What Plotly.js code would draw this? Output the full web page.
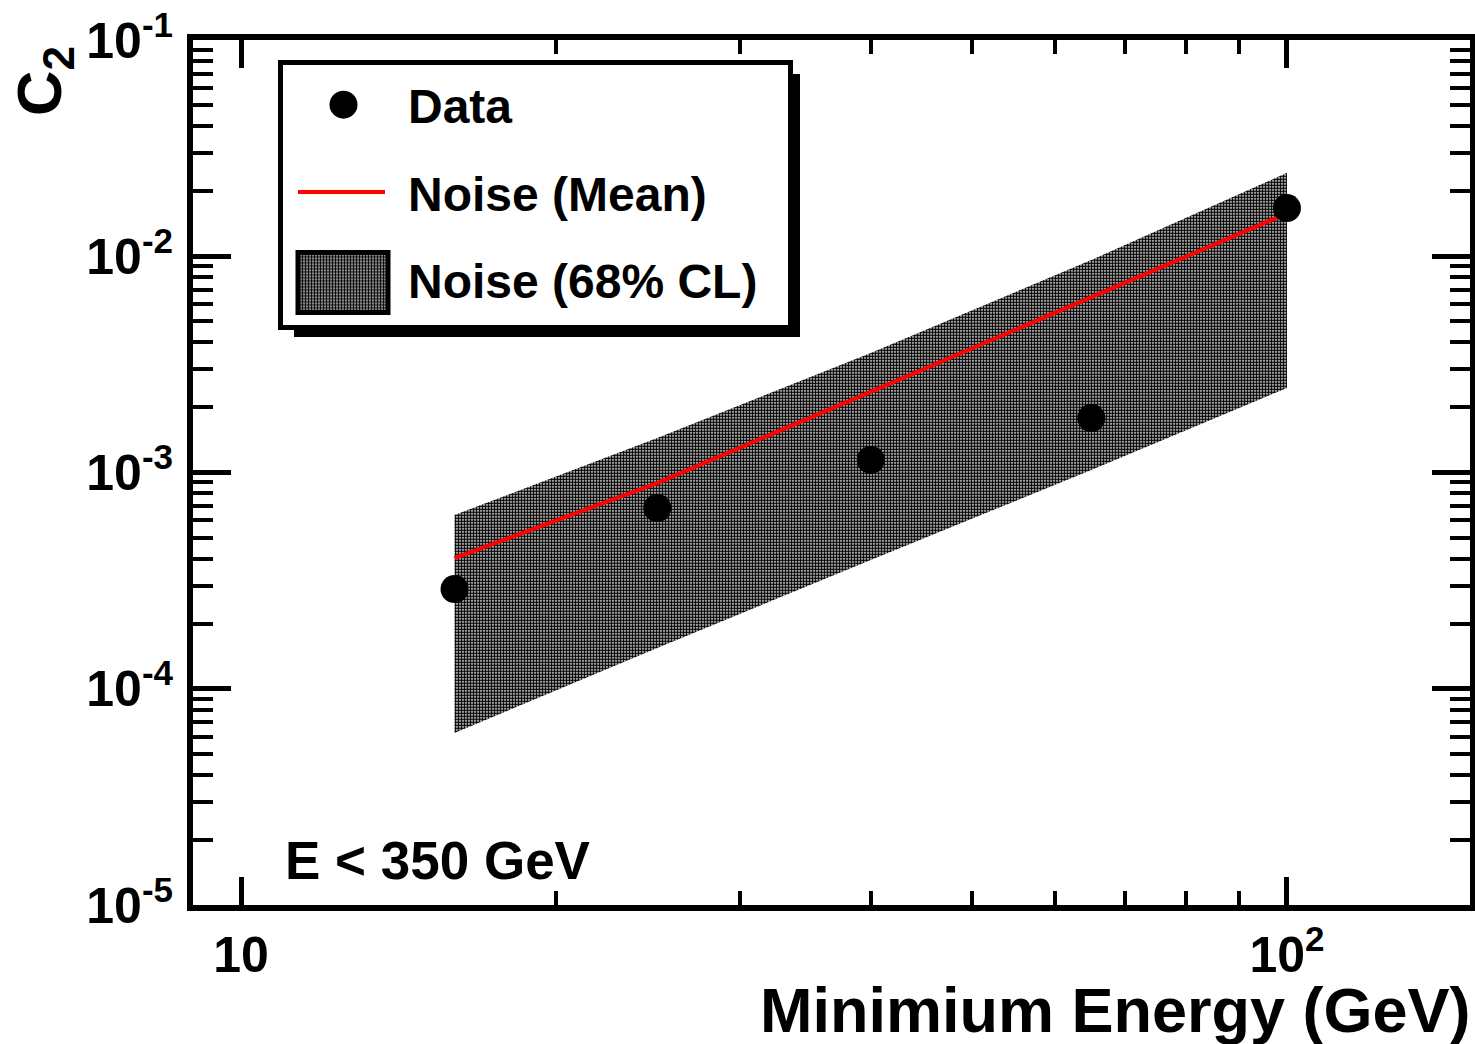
<!DOCTYPE html>
<html>
<head>
<meta charset="utf-8">
<script src="https://cdn.plot.ly/plotly-3.0.1.min.js"></script>
<style>
  html, body { margin: 0; padding: 0; background: #ffffff; }
  #chart { width: 1475px; height: 1044px; }
</style>
</head>
<body>
<div id="chart"></div>
<script>
// ---- data ----
var energyMin   = [16, 25, 40, 65, 100];                       // Minimum energy (GeV)
var dataC2      = [2.89e-4, 6.85e-4, 1.143e-3, 1.786e-3, 1.67e-2];
var noiseMean   = [4.02e-4, 8.94e-4, 2.36e-3, 6.48e-3, 1.58e-2];
var noiseUpper  = [6.36e-4, 1.443e-3, 3.57e-3, 9.61e-3, 2.43e-2];
var noiseLower  = [6.24e-5, 1.543e-4, 3.94e-4, 1.027e-3, 2.46e-3];

var xTickVals = [10, 100];
var xTickText = ['10', '10<sup>2</sup>'];
var yTickVals = [1e-5, 1e-4, 1e-3, 1e-2, 1e-1];
var yTickText = ['10<sup>-5</sup>', '10<sup>-4</sup>', '10<sup>-3</sup>', '10<sup>-2</sup>', '10<sup>-1</sup>'];

var seriesNames = ['Data', 'Noise (Mean)', 'Noise (68% CL)'];
var xTitle = 'Minimium Energy (GeV)';
var yTitle = 'C<sub>2</sub>';
var cutLabel = 'E &lt; 350 GeV';

// band polygon built from the upper and lower edges
var bandX = energyMin.concat(energyMin.slice().reverse());
var bandY = noiseUpper.concat(noiseLower.slice().reverse());

var FONT = 'Liberation Sans, Arial, Helvetica, sans-serif';

// pixel helpers for paper-referenced layout items (plot area 193..1470 x 40..905)
function px(v) { return (v - 193) / 1277; }
function py(v) { return (905 - v) / 865; }

var bandTrace = {
  x: bandX, y: bandY, type: 'scatter', mode: 'lines',
  fill: 'toself', fillcolor: '#707070',
  fillpattern: {shape: '.', size: 3, solidity: 0.7, fgcolor: '#000000', bgcolor: '#ffffff', fillmode: 'replace'},
  line: {width: 0, color: 'rgba(0,0,0,0)'},
  name: seriesNames[2], legendgroup: 'g3', legendrank: 3, hoverinfo: 'skip'
};
var meanTrace = {
  x: energyMin, y: noiseMean, type: 'scatter', mode: 'lines',
  line: {color: '#ff0000', width: 4},
  name: seriesNames[1], legendgroup: 'g2', legendrank: 2
};
var dataTrace = {
  x: energyMin, y: dataC2, type: 'scatter', mode: 'markers',
  marker: {color: '#000000', size: 28, symbol: 'circle'},
  name: seriesNames[0], legendgroup: 'g1', legendrank: 1
};

var axisCommon = {
  type: 'log', showgrid: false, zeroline: false,
  showline: true, linecolor: '#000000', linewidth: 6, mirror: 'ticks',
  ticks: 'inside', tickcolor: '#000000', tickwidth: 5,
  tickmode: 'array',
  tickfont: {family: FONT, size: 50, color: '#000000', weight: 'bold'}
};

var layout = {
  width: 1475, height: 1044,
  paper_bgcolor: '#ffffff', plot_bgcolor: '#ffffff',
  margin: {l: 193, r: 5, t: 40, b: 139, pad: 0},
  showlegend: true,
  xaxis: Object.assign({}, axisCommon, {
    range: [0.9541, 2.175],
    tickvals: xTickVals, ticktext: xTickText, ticklen: 28,
    ticklabelstandoff: 1,
    minor: {ticks: 'inside', ticklen: 14, tickwidth: 4, tickcolor: '#000000', dtick: 'D1', showgrid: false}
  }),
  yaxis: Object.assign({}, axisCommon, {
    range: [-5, -1],
    tickvals: yTickVals, ticktext: yTickText, ticklen: 38,
    ticklabelstandoff: 4,
    minor: {ticks: 'inside', ticklen: 20, tickwidth: 4, tickcolor: '#000000', dtick: 'D1', showgrid: false}
  }),
  legend: {
    x: px(283), y: py(67), xanchor: 'left', yanchor: 'top',
    bgcolor: 'rgba(0,0,0,0)', borderwidth: 0,
    font: {family: FONT, size: 48, color: '#000000', weight: 'bold'},
    traceorder: 'grouped', tracegroupgap: 22, itemwidth: 115,
    itemclick: false, itemdoubleclick: false
  },
  shapes: [
    { // legend shadow
      type: 'rect', xref: 'paper', yref: 'paper', layer: 'above',
      x0: px(294), x1: px(800), y0: py(337), y1: py(74),
      fillcolor: '#000000', line: {width: 0}
    },
    { // legend frame
      type: 'rect', xref: 'paper', yref: 'paper', layer: 'above',
      x0: px(280.5), x1: px(790.5), y0: py(327.5), y1: py(62.5),
      fillcolor: '#ffffff', line: {width: 5, color: '#000000'}
    }
  ],
  annotations: [
    {text: xTitle, xref: 'paper', yref: 'paper', x: 1.002, y: -0.121, xanchor: 'right', yanchor: 'middle',
     showarrow: false, font: {family: FONT, size: 63, color: '#000000', weight: 'bold'}},
    {text: yTitle, xref: 'paper', yref: 'paper', x: -0.117, y: 0.995, xanchor: 'center', yanchor: 'top',
     textangle: -90, showarrow: false, font: {family: FONT, size: 63, color: '#000000', weight: 'bold'}},
    {text: cutLabel, xref: 'paper', yref: 'paper', x: px(283), y: 0.052, xanchor: 'left', yanchor: 'middle',
     showarrow: false, font: {family: FONT, size: 53, color: '#000000', weight: 'bold'}}
  ]
};

Plotly.newPlot('chart', [bandTrace, meanTrace, dataTrace], layout, {displayModeBar: false}).then(function (gd) {
  // restyle the legend symbols to the reference's look
  var items = gd.querySelectorAll('.legend .traces');
  items.forEach(function (it) {
    it.querySelectorAll('.legendpoints path.scatterpts').forEach(function (p) {
      p.setAttribute('d', 'M12,0A14,14 0 1,1 -2,-14A14,14 0 0,1 12,0Z');
    });
    it.querySelectorAll('.legendlines path').forEach(function (p) {
      p.setAttribute('d', 'M15,0h87');
    });
    it.querySelectorAll('.legendfill path').forEach(function (p) {
      p.setAttribute('d', 'M15,-27h90v60h-90z');
      p.style.stroke = '#000000';
      p.style.strokeWidth = '5px';
    });
  });
});
</script>
</body>
</html>
